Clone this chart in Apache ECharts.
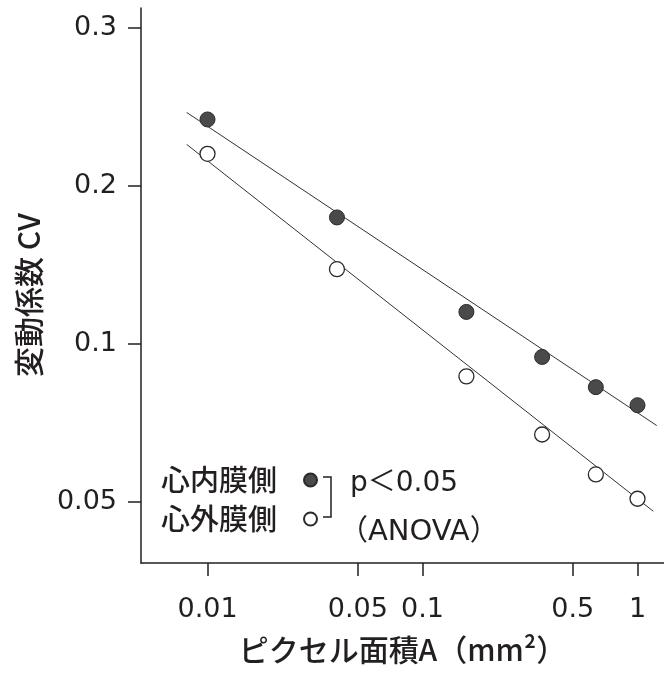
<!DOCTYPE html>
<html><head><meta charset="utf-8">
<script src="https://cdn.jsdelivr.net/npm/echarts@6/dist/echarts.min.js"></script>
<style>html,body{margin:0;padding:0;background:#fff}#c{width:664px;height:673px}</style>
</head><body><div id="c"></div>
<script>
// ---- data ----
const areas = [0.01, 0.04, 0.16, 0.36, 0.64, 1];            // pixel area A (mm^2)
const endoCV = [0.237, 0.174, 0.115, 0.0944, 0.0827, 0.0764]; // 心内膜側
const epiCV  = [0.217, 0.1387, 0.0867, 0.0672, 0.0564, 0.0507]; // 心外膜側
const endoFitA  = [0.008, 1.228];
const endoFitCV = [0.2413, 0.0699];
const epiFitA   = [0.008, 1.184];
const epiFitCV  = [0.2223, 0.048];
const xTickValues = [0.01, 0.05, 0.1, 0.5, 1];
const xTickLabels = ['0.01', '0.05', '0.1', '0.5', '1'];
const yTickValues = [0.05, 0.1, 0.2, 0.3];
const yTickLabels = ['0.05', '0.1', '0.2', '0.3'];
const xRange = [0.004905, 1.328];
const yRange = [0.03826, 0.3154];
const seriesNames = ['心内膜側', '心外膜側'];
const xTitle = 'ピクセル面積A（mm²）';
const yTitle = '変動係数 CV';
const pNote = 'p＜0.05';
const testNote = '（ANOVA）';

// ---- scale transforms (log x; y ticks equally spaced in log steps between labels) ----
const xPos = a => Math.log10(a);
function yPos(v) {
  const t = yTickValues;
  let i = v < t[1] ? 0 : (v < t[2] ? 1 : t.length - 2);
  const a = Math.log(t[i]), b = Math.log(t[i + 1]);
  return i + (Math.log(v) - a) / (b - a);
}
const fmt = (vals, labels, f) => v => {
  for (let i = 0; i < vals.length; i++) if (Math.abs(f(vals[i]) - v) < 1e-6) return labels[i];
  return '';
};

const TXT = '#231f20';
const FONT = '"DejaVu Sans", "Noto Sans CJK JP", sans-serif';
const CJK = '"Noto Sans CJK JP", "DejaVu Sans", sans-serif';
const chart = echarts.init(document.getElementById('c'), null, {renderer: 'canvas'});
chart.setOption({
  animation: false,
  backgroundColor: '#fff',
  grid: {left: 141, right: 0, top: 8, bottom: 110, containLabel: false, outerBoundsMode: 'none'},
  xAxis: {
    type: 'value', min: xPos(xRange[0]), max: xPos(xRange[1]),
    name: xTitle, nameLocation: 'middle', nameGap: 72,
    nameTextStyle: {fontSize: 30, color: TXT, fontFamily: CJK, fontWeight: 500},
    axisLine: {show: true, onZero: false, lineStyle: {color: TXT, width: 1.5}},
    axisTick: {show: true, inside: false, length: 13, customValues: xTickValues.map(xPos), lineStyle: {color: TXT, width: 1.5}},
    axisLabel: {customValues: xTickValues.map(xPos), formatter: fmt(xTickValues, xTickLabels, xPos),
      fontSize: 27, color: TXT, fontFamily: FONT, margin: 33},
    splitLine: {show: false}
  },
  yAxis: {
    type: 'value', min: yPos(yRange[0]), max: yPos(yRange[1]),
    axisLine: {show: true, onZero: false, lineStyle: {color: TXT, width: 1.5}},
    axisTick: {show: true, inside: false, length: 13, customValues: yTickValues.map(yPos), lineStyle: {color: TXT, width: 1.5}},
    axisLabel: {customValues: yTickValues.map(yPos), formatter: fmt(yTickValues, yTickLabels, yPos),
      fontSize: 27, color: TXT, fontFamily: FONT, margin: 24},
    splitLine: {show: false}
  },
  legend: {
    data: seriesNames, orient: 'vertical', left: 156, top: 460, align: 'right',
    icon: 'circle', itemWidth: 13, itemHeight: 13, itemGap: 9,
    textStyle: {fontSize: 29, color: TXT, fontFamily: CJK, fontWeight: 500, lineHeight: 30, padding: [0, 22, 0, 0]}
  },
  graphic: [
    {type: 'text', x: 29, y: 295, rotation: Math.PI / 2,
     style: {text: yTitle, fontSize: 30, fill: TXT, fontFamily: CJK, fontWeight: 500, align: 'center', verticalAlign: 'middle'}},
    {type: 'polyline', shape: {points: [[323, 477], [331, 477], [331, 517], [323, 517]]},
     style: {stroke: TXT, lineWidth: 1.5, fill: null}},
    {type: 'text', left: 350, top: 470, style: {text: pNote, fontSize: 28, fill: TXT, fontFamily: FONT}},
    {type: 'text', left: 339, top: 518, style: {text: testNote, fontSize: 29, fill: TXT, fontFamily: FONT}}
  ],
  series: [
    {type: 'line', data: endoFitA.map((a, i) => [xPos(a), yPos(endoFitCV[i])]), symbol: 'none', silent: true,
     lineStyle: {color: '#333', width: 1}, z: 1},
    {type: 'line', data: epiFitA.map((a, i) => [xPos(a), yPos(epiFitCV[i])]), symbol: 'none', silent: true,
     lineStyle: {color: '#333', width: 1}, z: 1},
    {name: seriesNames[0], type: 'scatter', symbol: 'circle', symbolSize: 15, z: 5,
     data: areas.map((a, i) => [xPos(a), yPos(endoCV[i])]),
     itemStyle: {color: '#4a4a4a', borderColor: '#2a2a2a', borderWidth: 1, opacity: 1}},
    {name: seriesNames[1], type: 'scatter', symbol: 'circle', symbolSize: 15, z: 5,
     data: areas.map((a, i) => [xPos(a), yPos(epiCV[i])]),
     itemStyle: {color: '#ffffff', borderColor: '#2a2a2a', borderWidth: 1.3, opacity: 1}}
  ]
});
</script></body></html>
